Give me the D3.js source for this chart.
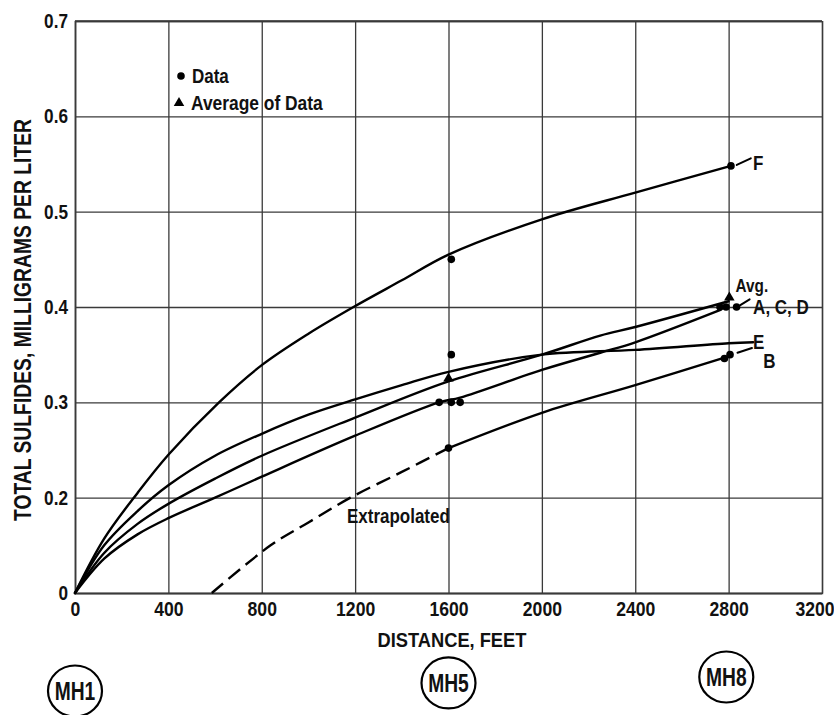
<!DOCTYPE html>
<html>
<head>
<meta charset="utf-8">
<script src="https://cdn.jsdelivr.net/npm/d3@7"></script>
<style>
  html, body { margin: 0; padding: 0; background: #fff; }
  svg { display: block; }
  text { font-family: "Liberation Sans", Arial, sans-serif; font-weight: bold; fill: #111; }
</style>
</head>
<body>
<script>
// ---------- data ----------
const xTicks = [0, 400, 800, 1200, 1600, 2000, 2400, 2800, 3200];
const yTicks = [0, 0.2, 0.3, 0.4, 0.5, 0.6, 0.7];
const yTickLabels = ["0", "0.2", "0.3", "0.4", "0.5", "0.6", "0.7"];

// curves: [distance ft, total sulfides mg/L]
const curveF = [[0,0],[125,0.114],[268,0.205],[400,0.245],[617,0.3],[800,0.339],[1000,0.372],[1193,0.4],[1400,0.428],[1600,0.455],[2000,0.492],[2400,0.52],[2810,0.548]];
const curveE = [[0,0],[125,0.1],[268,0.172],[400,0.213],[600,0.244],[800,0.267],[1000,0.287],[1200,0.303],[1400,0.318],[1600,0.332],[2000,0.35],[2400,0.355],[2800,0.362],[2905,0.363]];
const curveAvg = [[0,0],[125,0.084],[268,0.145],[400,0.187],[600,0.22],[800,0.244],[1200,0.284],[1600,0.322],[2000,0.35],[2250,0.37],[2400,0.379],[2800,0.406]];
const curveACD = [[0,0],[125,0.072],[268,0.123],[400,0.157],[600,0.2],[800,0.222],[1200,0.265],[1560,0.3],[1650,0.305],[2000,0.334],[2250,0.352],[2400,0.363],[2765,0.397]];
const curveBExtrap = [[586,0],[838,0.1],[1000,0.148],[1180,0.2],[1400,0.227],[1600,0.252]];
const curveB = [[1600,0.252],[2000,0.289],[2400,0.318],[2810,0.349]];

const dataDots = [[1612,0.45],[1612,0.35],[1560,0.3],[1612,0.3],[1650,0.3],[1600,0.252],
                  [2810,0.548],[2763,0.4],[2789,0.4],[2834,0.4],[2782,0.346],[2806,0.35]];
const avgPoints = [[1600,0.325],[2803,0.41]];

// short leader lines to curve labels
const leaders = [
  [[2835,0.549],[2895,0.556]],
  [[2850,0.402],[2890,0.408]],
  [[2838,0.352],[2900,0.357]]
];
const curveLabels = [
  {text: "F", ft: 2905, v: 0.551, size: 20},
  {text: "Avg.", ft: 2830, v: 0.423, size: 18},
  {text: "A, C, D", ft: 2905, v: 0.400, size: 20},
  {text: "E", ft: 2905, v: 0.364, size: 20},
  {text: "B", ft: 2948, v: 0.344, size: 20}
];
const manholes = [{name: "MH1", ft: 0}, {name: "MH5", ft: 1600}, {name: "MH8", ft: 2790}];

// ---------- layout ----------
const W = 834, H = 715;
const mLeft = 75, mRight = 822, mTop = 21, mBottom = 593;
const step = (mBottom - mTop) / 6;
const SX = 0.85; // horizontal squeeze to imitate the condensed typeface

// squeeze text horizontally while keeping its anchor point
function squeeze(sel, sx) {
  sel.each(function() {
    const t = d3.select(this);
    const xa = parseFloat(t.attr("x")) || 0;
    const tr = t.attr("transform") || "";
    t.attr("x", xa / sx).attr("transform", (tr + ` scale(${sx},1)`).trim());
  });
}

const svg = d3.select("body").append("svg").attr("width", W).attr("height", H);

const x = d3.scaleLinear().domain([0, 3200]).range([mLeft, mRight]);
// the original axis has a break: the lowest grid interval spans 0 to 0.2
const y = d3.scaleLinear().domain([0, 0.2, 0.7]).range([mBottom, mBottom - step, mTop]);

const gridColor = "#3a3a3a";

// x axis with vertical grid
const gx = svg.append("g").attr("transform", `translate(0,${mBottom})`)
  .call(d3.axisBottom(x).tickValues(xTicks).tickFormat(d3.format("d"))
        .tickSize(-(mBottom - mTop)).tickPadding(9));
gx.attr("font-family", null).attr("font-size", null);
gx.select(".domain").attr("stroke", gridColor).attr("stroke-width", 1.4);
gx.selectAll(".tick line").attr("stroke", gridColor).attr("stroke-width", 1.3);
gx.selectAll(".tick text").attr("font-size", 20).attr("fill", "#111")
  .filter(d => d === 3200).attr("text-anchor", "end").attr("x", 834 - mRight);
squeeze(gx.selectAll(".tick text"), 0.88);

// y axis with horizontal grid
const gy = svg.append("g").attr("transform", `translate(${mLeft},0)`)
  .call(d3.axisLeft(y).tickValues(yTicks).tickFormat((d, i) => yTickLabels[i])
        .tickSize(-(mRight - mLeft)).tickPadding(7));
gy.attr("font-family", null).attr("font-size", null);
gy.select(".domain").attr("stroke", gridColor).attr("stroke-width", 1.4);
gy.selectAll(".tick line").attr("stroke", gridColor).attr("stroke-width", 1.3);
gy.selectAll(".tick text").attr("font-size", 20).attr("fill", "#111");
squeeze(gy.selectAll(".tick text"), 0.86);

// frame top
svg.append("line").attr("x1", x(0)).attr("x2", x(3200)).attr("y1", y(0.7)).attr("y2", y(0.7))
  .attr("stroke", gridColor).attr("stroke-width", 1.4);

// curves
const line = d3.line().x(d => x(d[0])).y(d => y(d[1])).curve(d3.curveCatmullRom.alpha(0.5));
const curves = svg.append("g").attr("fill", "none").attr("stroke", "#000").attr("stroke-width", 2.4)
  .attr("stroke-linecap", "round");
[curveF, curveE, curveAvg, curveACD, curveB].forEach(c => curves.append("path").attr("d", line(c)));
curves.append("path").attr("d", line(curveBExtrap)).attr("stroke-dasharray", "15,7")
  .attr("stroke-linecap", "butt");

// leaders
const straight = d3.line().x(d => x(d[0])).y(d => y(d[1]));
leaders.forEach(l => curves.append("path").attr("d", straight(l)).attr("stroke-width", 2));

// data dots
svg.append("g").selectAll("circle").data(dataDots).join("circle")
  .attr("cx", d => x(d[0])).attr("cy", d => y(d[1])).attr("r", 3.8).attr("fill", "#000");

// average triangles
const tri = d3.symbol().type(d3.symbolTriangle).size(48);
svg.append("g").selectAll("path").data(avgPoints).join("path")
  .attr("d", tri).attr("transform", d => `translate(${x(d[0])},${y(d[1])})`).attr("fill", "#000");

// curve labels
const cl = svg.append("g").selectAll("text").data(curveLabels).join("text")
  .attr("x", d => x(d.ft)).attr("y", d => y(d.v)).attr("dy", "0.36em")
  .attr("font-size", d => d.size).text(d => d.text);
squeeze(cl, SX);

// Extrapolated label
squeeze(svg.append("text").attr("x", x(1165)).attr("y", y(0.2) + 25).attr("font-size", 20).text("Extrapolated"), SX);

// legend
const lg = svg.append("g");
lg.append("circle").attr("cx", 181).attr("cy", 76).attr("r", 3.8).attr("fill", "#000");
squeeze(lg.append("text").attr("x", 192).attr("y", 83).attr("font-size", 20).text("Data"), SX);
lg.append("path").attr("d", tri).attr("transform", "translate(179,103)").attr("fill", "#000");
squeeze(lg.append("text").attr("x", 191).attr("y", 110).attr("font-size", 20).text("Average of Data"), 0.87);

// axis titles
squeeze(svg.append("text").attr("x", 452).attr("y", 647).attr("text-anchor", "middle")
  .attr("font-size", 21).text("DISTANCE, FEET"), 0.87);
svg.append("text").attr("transform", "translate(31,320) rotate(-90) scale(0.84,1)").attr("text-anchor", "middle")
  .attr("font-size", 23).text("TOTAL SULFIDES, MILLIGRAMS PER LITER");

// manholes
const mh = svg.append("g").selectAll("g").data(manholes).join("g")
  .attr("transform", d => `translate(${x(d.ft)},${691 - (x(d.ft) - mLeft) * 0.0215})`);
mh.append("ellipse").attr("rx", 27).attr("ry", 25.5).attr("fill", "none").attr("stroke", "#000").attr("stroke-width", 2.2);
const mt = mh.append("text").attr("text-anchor", "middle").attr("dy", "0.36em").attr("font-size", 26).text(d => d.name);
squeeze(mt, 0.74);
</script>
</body>
</html>
